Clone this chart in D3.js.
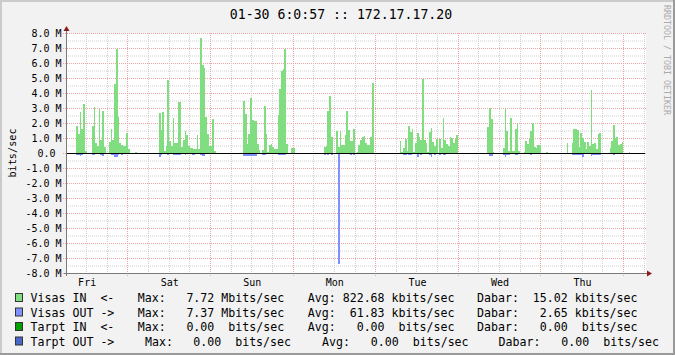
<!DOCTYPE html>
<html>
<head>
<meta charset="utf-8">
<script src="https://cdn.jsdelivr.net/npm/d3@7"></script>
<style>
  html, body { margin: 0; padding: 0; background: #f2f2f2; }
  svg { display: block; }
  text { font-family: "DejaVu Sans Mono", monospace; white-space: pre; }
</style>
</head>
<body>
<div id="chart"></div>
<script>
// graph settings
const title = "01-30 6:0:57 :: 172.17.17.20";
const startTime = new Date(2009, 0, 23, 6, 0, 0);   // Fri 06:00
const endTime = new Date(2009, 0, 30, 6, 0, 0);     // Fri 06:00 one week later
const stepMinutes = 30;
const yMin = -8, yMax = 8;
const yLabel = "bits/sec";
const watermark = "RRDTOOL / TOBI OETIKER";

// Visas IN, Mbits/sec, one value every 30 min, one row per day (starting 06:00)
const visasIn = [
  0,0,0,0,0,0, 1.8,1.3,2.75,1.6,3.25,0.15, 0,0,0, 1.8,3.1,0.7,0.5,2.95,0.9,2.8,0.4, 0,0,
  0.75,1.6,0.9,4.6,6.95,2.4,0.7,0.55,0.5,0.45,1.35,0.3, 0,0,0, 0.08, 0,0,0,0,0,0,0,
  0,0,0,0,0,0, 2.7,1.55,2.75,0.12,0.45,4.85,0.82,0.47,2.35,0.68,0.68,3.43,3.43,0.42,0.9,1.49,
  1.2,0.5,0.35,0.35,0.3,0.3,1.22,0.28,7.7,5.85,5.7,2.38,1.25,0.5,0.5,2.3,0.12, 0,0,0,0,0,0,0,0,0,
  0,0,0,0,0,0,0, 3.5,2.62,0.58,1.29,3.69,2.22,2.13,2.13,0.58,0.18,0,0.22,3.15,1.24,0.09,
  0.51,0.58,0.4,0.3,0.3,2.55,4.3,5.5,5.6,6.95,0.62,0,0,0.36,0.36, 0,0,0,0,0,0,0,0,0,0,0,
  0,0,0,0,0,0, 0.38,0.5,2.82,3.82,1.1,0,0,1.5,0.4,1.47,0.55,0.55,1.18,2.82,1.51,
  0.78,0.8,1.58,0,0.1,0.55,0.9,1.1,1.15,0.65,0.55,0.52,1.1,4.68, 0,0,0,0,0,0,0,0,0,0,0,0,0,
  0,0, 0.82,0.09,0.36,0.96,0.15,1.82,1.42,1.62,0.1,0.69,1.36,1.09,0.9,4.96,0.89,0.69,0.09,
  1.42,1.69,0.76,0.49,0.96,0,0.96,0.36,2.36,0.89,0.6,0.47,1.09,1.0,0.7,0.96,1.22, 0,0,0,0,0,0,0,0,0,0,0,0,
  0,0,0,0,0, 1.76,2.98,2.24,0.1, 0,0,0,0,0, 0.36,3.02,1.49,0.13,2.36,0.13,0.13,1.62,2.02,0.13, 0,0,
  0.09,0.82,0.62,0.96,1.49,1.98,0.42,0.36,0.56,0.56, 0,0,0, 0.09, 0,0,0,0,0,0,0,0,
  0,0,0, 0.69, 0,0, 0.69,1.62,1.62,1.55,0.42,1.36,1.02,0.76,0.24,0.76,0.49,4.22,0.62,0.69,0.29,1.29,1.36,
  0,0,0,0,0, 0.36,0.82,1.89,1.02,1.09,0.53,0.62,0.76, 0,0,0, 0.09, 0,0,0,0,0,0,0,0
];

// Visas OUT, Mbits/sec (drawn below zero), same steps
const visasOut = [
  0,0,0,0,0,0, .13,.13,.2,.13,0,0, 0,0,0,.13,.13,0, 0,0,.13,.2,0,0, 0,0,.13,.13,.27,.27, .13,0,.1,0,0,0, 0,0,0,0,0,0, 0,0,0,0,0,0,
  0,0,0,0,0,0, .27,.13,0,0,0,.13, 0,0,.13,.13,.13,.13, .13,0,0,.13,0,0, 0,.13,.13,0,0,0, .13,.2,.2,0,0,0, 0,0,0,0,0,0, 0,0,0,0,0,0,
  0,0,0,0,0,0, 0,.2,.2,.2,.2,.2, .2,.2,.2,0,0,0, .13,.13,0,0,0,0, 0,0,0,.13,.13,.13, .13,.13,0,0,0,0, 0,0,0,0,0,0, 0,0,0,0,0,0,
  0,0,0,0,0,0, .13,0,.16,0,.13,0, 0,0,7.37,0,0,0, 0,0,0,.13,0,.16, 0,0,0,0,0,0, 0,0,0,0,0,0, 0,0,0,0,0,0, 0,0,0,0,0,0,
  0,0,0,0,.13,.13, 0,.16,.16,0,0,0, .27,0,.13,0,0,0, 0,.13,.27,0,.13,0, 0,.13,0,.13,.13,0, 0,0,0,0,0,0, 0,0,0,0,0,0, 0,0,0,0,0,0,
  0,0,0,0,0,0, .2,.2,0,0,0,0, 0,0,.13,.27,.13,.13, 0,0,0,.13,.13,0, 0,0,0,0,0,0, .13,0,0,0,0,0, 0,0,0,0,0,0, 0,0,0,0,0,0,
  0,0,0,0,0,0, .13,.13,.13,.13,.13,.13, .27,0,0,0,0,.2, .13,.13,.13,.13,.13,0, 0,0,0,0,0,0, .13,0,0,0,0,0, 0,0,0,0,0,0, 0,0,0,0,0,0
];

// legend
const legendNames = ["Visas IN  <-", "Visas OUT ->", "Tarpt IN  <-", "Tarpt OUT ->"];
const legendColors = ["#80de80", "#8090ff", "#00a000", "#4a68c8"];
const legendMax = ["7.72 Mbits/sec", "7.37 Mbits/sec", "0.00  bits/sec", "0.00  bits/sec"];
const legendAvg = ["822.68 kbits/sec", " 61.83 kbits/sec", "  0.00  bits/sec", "  0.00  bits/sec"];
const legendNow = [" 15.02 kbits/sec", "  2.65 kbits/sec", "  0.00  bits/sec", "  0.00  bits/sec"];

const W = 675, H = 355;
const gridMinor = "#d0d0d0", gridMajor = "#f2a3a3";

const svg = d3.select("#chart").append("svg")
    .attr("width", W)
    .attr("height", H);

// background + frame
svg.append("rect").attr("width", W).attr("height", H).attr("fill", "#f2f2f2");
svg.append("rect").attr("x", 0).attr("y", 0).attr("width", W).attr("height", 2).attr("fill", "#cbcbcb");
svg.append("rect").attr("x", 0).attr("y", 0).attr("width", 2).attr("height", H).attr("fill", "#cbcbcb");
svg.append("rect").attr("x", 0).attr("y", H - 2).attr("width", W).attr("height", 2).attr("fill", "#9a9a9a");
svg.append("rect").attr("x", W - 2).attr("y", 0).attr("width", 2).attr("height", H).attr("fill", "#9a9a9a");

// scales
const x = d3.scaleTime().domain([startTime, endTime]).range([66, 644]);
const y = d3.scaleLinear().domain([yMin, yMax]).range([273, 33]);
const px = v => Math.floor(v) + 0.5;

// canvas
svg.append("rect")
    .attr("x", x.range()[0]).attr("y", y(yMax))
    .attr("width", x.range()[1] - x.range()[0] + 2).attr("height", y(yMin) - y(yMax) + 1)
    .attr("fill", "#ffffff");

// horizontal grid
const yValues = d3.range(yMin, yMax + 0.25, 0.5);
svg.append("g").selectAll("line")
    .data(yValues)
    .join("line")
    .attr("x1", d => Number.isInteger(d) ? x.range()[0] - 3 : x.range()[0])
    .attr("x2", x.range()[1] + 2)
    .attr("y1", d => y(d) + 0.5)
    .attr("y2", d => y(d) + 0.5)
    .attr("stroke", d => Number.isInteger(d) ? gridMajor : gridMinor)
    .attr("stroke-dasharray", "1,1");

// vertical grid: 6h minor, midnight major
const hours = d3.timeHour.every(6).range(startTime, new Date(+endTime + 1));
svg.append("g").selectAll("line")
    .data(hours)
    .join("line")
    .attr("x1", d => px(x(d)))
    .attr("x2", d => px(x(d)))
    .attr("y1", y(yMax))
    .attr("y2", d => y(yMin) + (d.getHours() === 0 ? 3 : 2))
    .attr("stroke", d => d.getHours() === 0 ? gridMajor : gridMinor)
    .attr("stroke-dasharray", "1,1");

// areas
function toPoints(values) {
    const pts = values.map((v, i) => ({t: d3.timeMinute.offset(startTime, i * stepMinutes), v: v}));
    pts.push({t: endTime, v: values[values.length - 1]});
    return pts;
}

const areaIn = d3.area()
    .curve(d3.curveStepAfter)
    .x(d => x(d.t))
    .y0(y(0))
    .y1(d => y(d.v));

const areaOut = d3.area()
    .curve(d3.curveStepAfter)
    .x(d => x(d.t))
    .y0(y(0))
    .y1(d => y(-d.v));

svg.append("path")
    .datum(toPoints(visasIn))
    .attr("d", areaIn)
    .attr("fill", legendColors[0])
    .attr("shape-rendering", "crispEdges");

svg.append("path")
    .datum(toPoints(visasOut))
    .attr("d", areaOut)
    .attr("fill", legendColors[1])
    .attr("shape-rendering", "crispEdges");

// zero line
svg.append("line")
    .attr("x1", x.range()[0]).attr("x2", x.range()[1] + 1)
    .attr("y1", y(0) + 0.5).attr("y2", y(0) + 0.5)
    .attr("stroke", "#000");

// axes
const axisColor = "#7a7a7a", arrowColor = "#8e1b1b";
svg.append("line")
    .attr("x1", x.range()[0] + 0.5).attr("x2", x.range()[0] + 0.5)
    .attr("y1", y(yMin) + 3).attr("y2", y(yMax) - 4)
    .attr("stroke", axisColor);
svg.append("line")
    .attr("x1", x.range()[0] - 2).attr("x2", x.range()[1] + 4)
    .attr("y1", y(yMin) + 0.5).attr("y2", y(yMin) + 0.5)
    .attr("stroke", axisColor);
svg.append("path")
    .attr("d", `M${x.range()[0] + 0.5},${y(yMax) - 7} L${x.range()[0] - 2.5},${y(yMax) - 2} L${x.range()[0] + 3.5},${y(yMax) - 2} Z`)
    .attr("fill", arrowColor);
svg.append("path")
    .attr("d", `M${x.range()[1] + 8},${y(yMin) + 0.5} L${x.range()[1] + 3},${y(yMin) - 2.5} L${x.range()[1] + 3},${y(yMin) + 3.5} Z`)
    .attr("fill", arrowColor);

// y labels
svg.append("g").selectAll("text")
    .data(d3.range(yMin, yMax + 1, 1))
    .join("text")
    .attr("x", d => d === 0 ? 55.5 : 61.5)
    .attr("y", d => y(d) + 4)
    .attr("text-anchor", "end")
    .attr("font-size", "10px")
    .attr("fill", "#000")
    .text(d => d === 0 ? "0.0" : d3.format(".1f")(d).replace("−", "-") + " M");

// x labels at noon
const noons = d3.timeDay.range(d3.timeDay.floor(startTime), endTime).map(d => d3.timeHour.offset(d, 12))
    .filter(d => d > startTime && d < endTime);
svg.append("g").selectAll("text")
    .data(noons)
    .join("text")
    .attr("x", d => x(d) + 0.5)
    .attr("y", 286)
    .attr("text-anchor", "middle")
    .attr("font-size", "10px")
    .attr("fill", "#000")
    .text(d3.timeFormat("%a"));

// title
svg.append("text")
    .attr("x", 341)
    .attr("y", 18.5)
    .attr("text-anchor", "middle")
    .attr("font-size", "13.2px")
    .attr("fill", "#000")
    .text(title);

// vertical label
svg.append("text")
    .attr("transform", "translate(15.5," + ((y(yMin) + y(yMax)) / 2) + ") rotate(-90)")
    .attr("text-anchor", "middle")
    .attr("font-size", "10.2px")
    .attr("fill", "#000")
    .text(yLabel);

// watermark
svg.append("text")
    .attr("transform", "translate(663.5,5) rotate(90)")
    .attr("font-size", "8.3px")
    .attr("fill", "#ababab")
    .text(watermark);

// legend
const rowY = [302, 316.5, 331, 345.5];
const maxX = [137.8, 137.8, 137.8, 145];
const maxValX = [186.4, 186.4, 186.4, 193.3];
const avgX = [307.8, 307.8, 307.8, 322];
const nowX = [477, 477, 477, 498.5];

const legend = svg.append("g").attr("font-size", "11.6px").attr("fill", "#000");
legendNames.forEach((name, i) => {
    legend.append("rect")
        .attr("x", 15.5).attr("y", rowY[i] - 8.5)
        .attr("width", 7).attr("height", 8)
        .attr("fill", legendColors[i])
        .attr("stroke", "#333");
    legend.append("text").attr("x", 30.6).attr("y", rowY[i]).text(name);
    legend.append("text").attr("x", maxX[i]).attr("y", rowY[i]).text("Max:");
    legend.append("text").attr("x", maxValX[i]).attr("y", rowY[i]).text(legendMax[i]);
    legend.append("text").attr("x", avgX[i]).attr("y", rowY[i]).text("Avg: " + legendAvg[i]);
    legend.append("text").attr("x", nowX[i]).attr("y", rowY[i]).text("Dabar: " + legendNow[i]);
});
</script>
</body>
</html>
